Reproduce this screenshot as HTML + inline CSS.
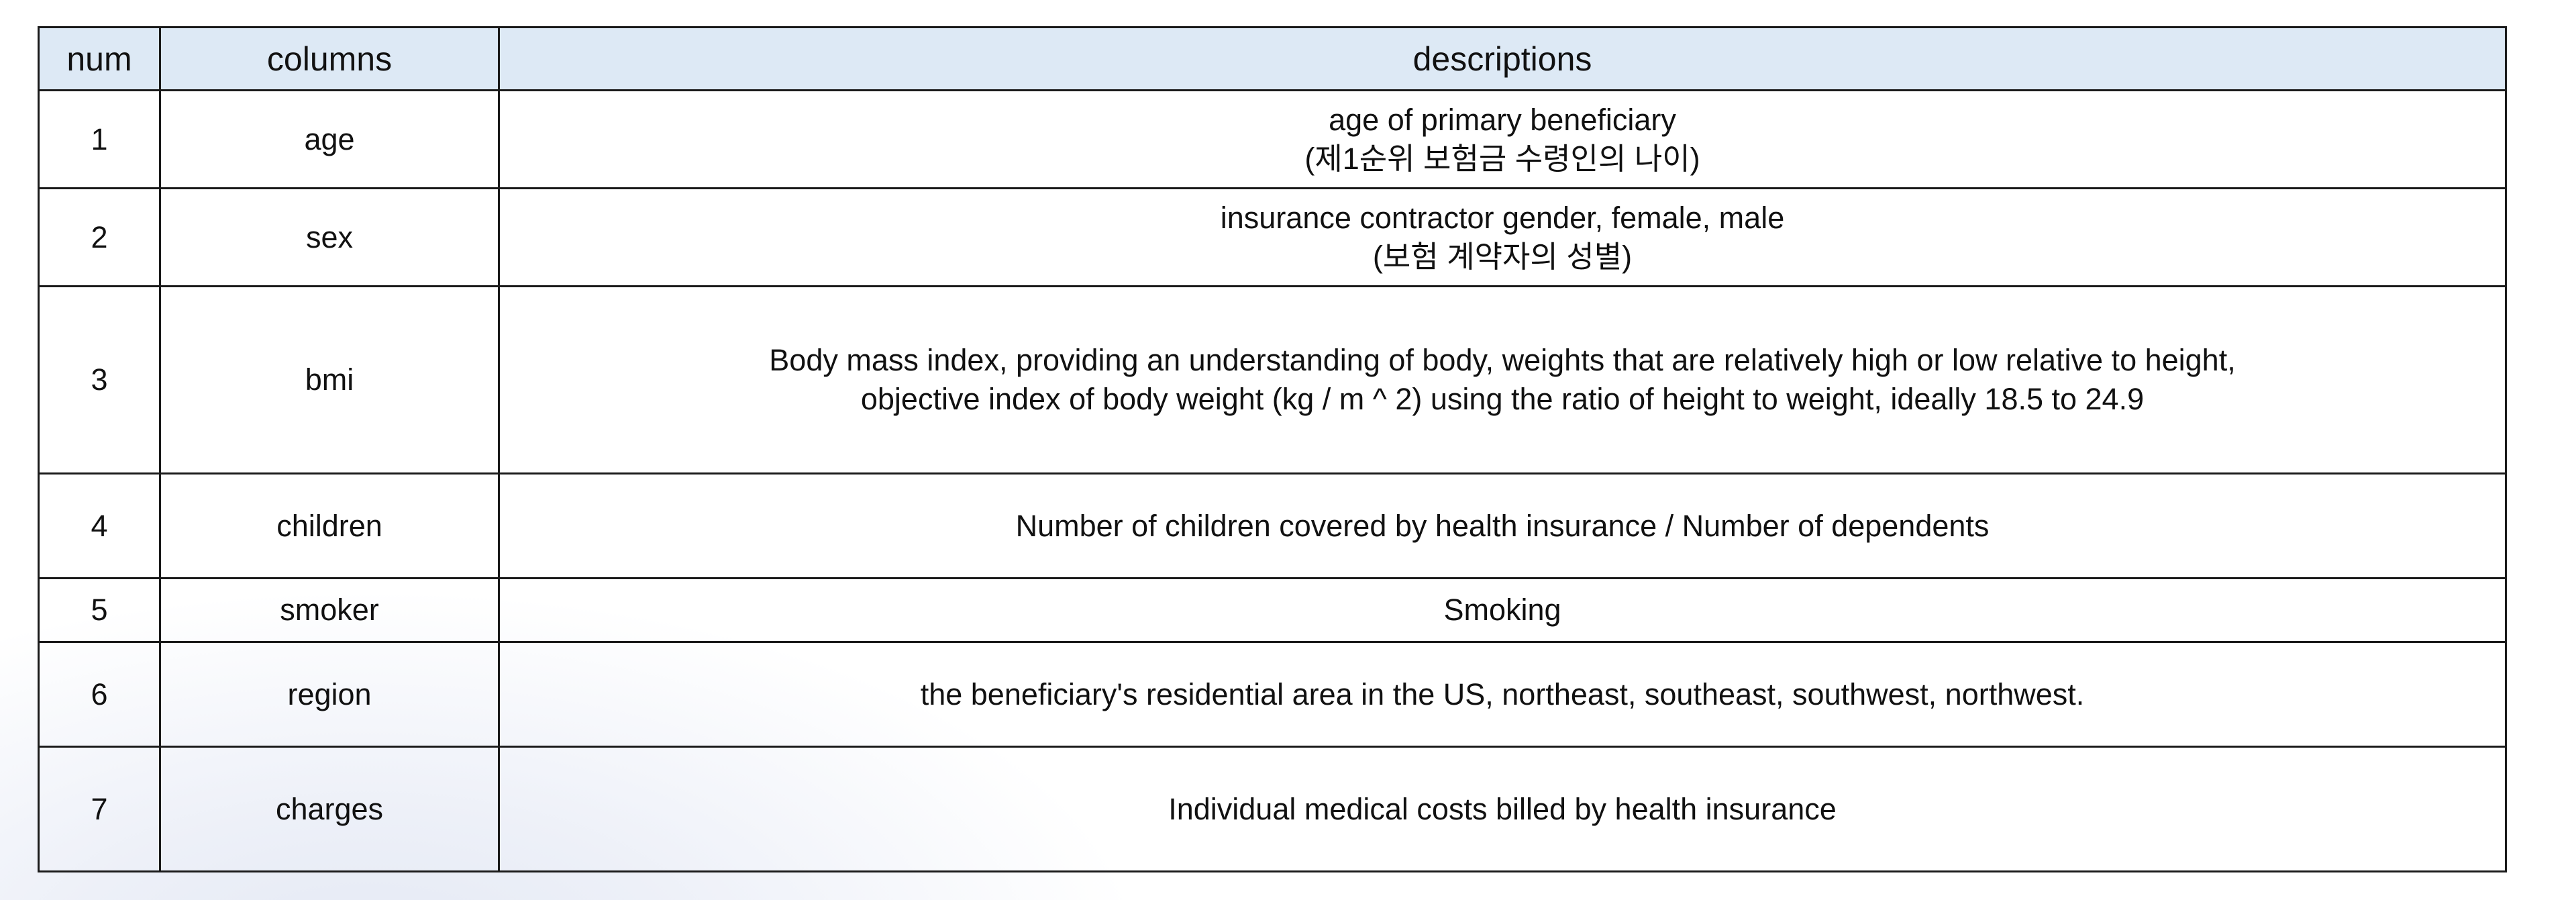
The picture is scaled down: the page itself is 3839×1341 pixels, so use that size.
<!DOCTYPE html>
<html style="width:3839px;height:1341px;overflow:hidden;"><head><meta charset="utf-8">
<style>
html,body{margin:0;padding:0;}
body{width:3839px;height:1341px;position:relative;overflow:hidden;background:#fff;font-family:"Liberation Sans","Noto Sans CJK KR",sans-serif;color:#111;}
.bg{position:absolute;left:0;top:860px;width:1700px;height:481px;background:radial-gradient(ellipse 1150px 550px at 550px 570px,#e4e9f4 0%,#edf0f8 40%,rgba(255,255,255,0) 100%);}
table{position:absolute;left:56px;top:39px;border-collapse:collapse;table-layout:fixed;width:3677px;}
td,th{border:3.5px solid #1a1a1a;text-align:center;vertical-align:middle;padding:0;font-size:45px;line-height:58px;font-weight:normal;}
th{background:#dde9f5;font-size:50px;}
</style></head><body>
<div class="bg"></div>
<table>
<colgroup><col style="width:181px"><col style="width:505px"><col style="width:2991px"></colgroup>
<tr style="height:94px"><th>num</th><th>columns</th><th>descriptions</th></tr>
<tr style="height:146px"><td>1</td><td>age</td><td>age of primary beneficiary<br>(제1순위 보험금 수령인의 나이)</td></tr>
<tr style="height:146px"><td>2</td><td>sex</td><td>insurance contractor gender, female, male<br>(보험 계약자의 성별)</td></tr>
<tr style="height:279px"><td>3</td><td>bmi</td><td>Body mass index, providing an understanding of body, weights that are relatively high or low relative to height,<br>objective index of body weight (kg / m ^ 2) using the ratio of height to weight, ideally 18.5 to 24.9</td></tr>
<tr style="height:156px"><td>4</td><td>children</td><td>Number of children covered by health insurance / Number of dependents</td></tr>
<tr style="height:95px"><td>5</td><td>smoker</td><td>Smoking</td></tr>
<tr style="height:156px"><td>6</td><td>region</td><td>the beneficiary's residential area in the US, northeast, southeast, southwest, northwest.</td></tr>
<tr style="height:186px"><td>7</td><td>charges</td><td>Individual medical costs billed by health insurance</td></tr>
</table>
</body></html>
